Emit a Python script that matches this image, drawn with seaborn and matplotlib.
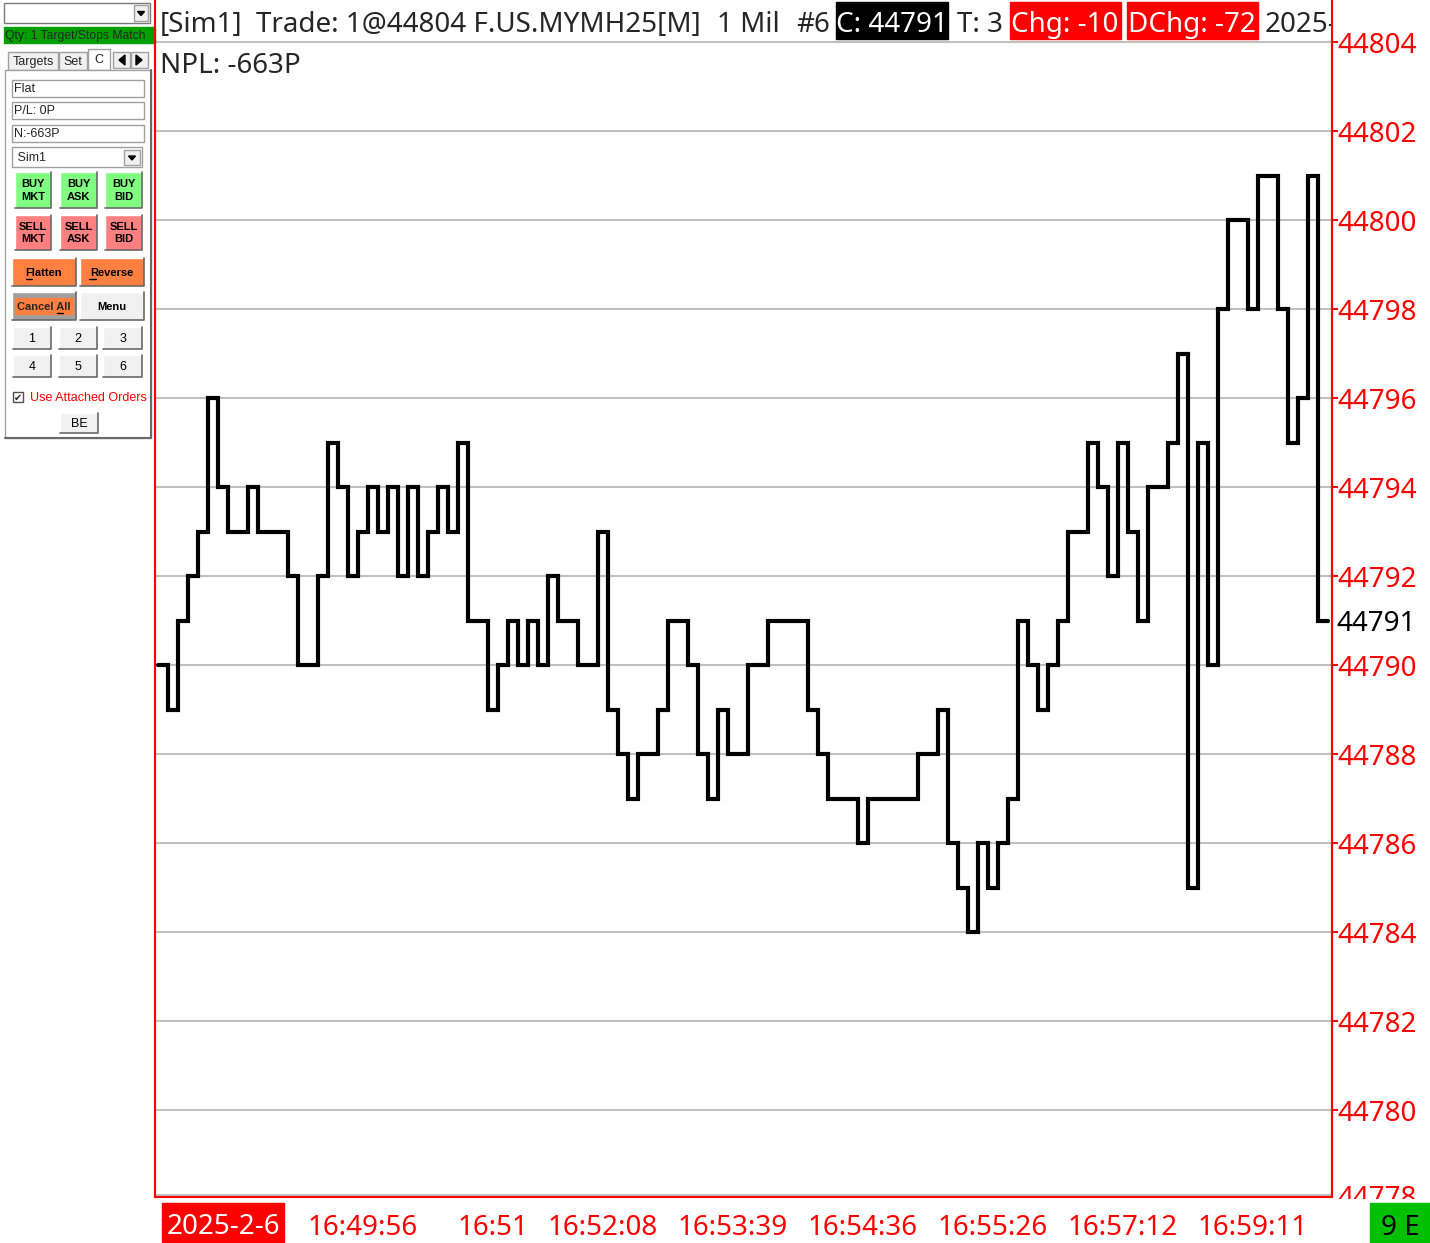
import numpy as np
import pandas as pd
import matplotlib
matplotlib.use("Agg")
import matplotlib.pyplot as plt
import seaborn as sns
from matplotlib.patches import Rectangle, Polygon

# closing price of each 1-tick bar
closes = [44790, 44789, 44791, 44792, 44793, 44796, 44794, 44793, 44793, 44794,
          44793, 44793, 44793, 44792, 44790, 44790, 44792, 44795, 44794, 44792,
          44793, 44794, 44793, 44794, 44792, 44794, 44792, 44793, 44794, 44793,
          44795, 44791, 44791, 44789, 44790, 44791, 44790, 44791, 44790, 44792,
          44791, 44791, 44790, 44790, 44793, 44789, 44788, 44787, 44788, 44788,
          44789, 44791, 44791, 44790, 44788, 44787, 44789, 44788, 44788, 44790,
          44790, 44791, 44791, 44791, 44791, 44789, 44788, 44787, 44787, 44787,
          44786, 44787, 44787, 44787, 44787, 44787, 44788, 44788, 44789, 44786,
          44785, 44784, 44786, 44785, 44786, 44787, 44791, 44790, 44789, 44790,
          44791, 44793, 44793, 44795, 44794, 44792, 44795, 44793, 44791, 44794,
          44794, 44795, 44797, 44785, 44795, 44790, 44798, 44800, 44800, 44798,
          44801, 44801, 44798, 44795, 44796, 44801, 44791]
time_tick_bars = [20, 33, 44, 57, 70, 83, 96, 109]
time_labels = ["16:49:56", "16:51", "16:52:08", "16:53:39", "16:54:36",
               "16:55:26", "16:57:12", "16:59:11"]
price_ticks = list(range(44780, 44805, 2))
last_price = 44791
date_label = "2025-2-6"

title_parts = ["[Sim1]", "Trade: 1@44804 F.US.MYMH25[M]", "1 Mil", "#6"]
npl_text = "NPL: -663P"
buy_labels = ["BUY\nMKT", "BUY\nASK", "BUY\nBID"]
sell_labels = ["SELL\nMKT", "SELL\nASK", "SELL\nBID"]
field_labels = ["Flat", "P/L: 0P", "N:-663P"]
num_labels = ["1", "2", "3", "4", "5", "6"]

sns.set_style("white")
plt.rcParams['font.family'] = ['Noto Sans', 'DejaVu Sans']

W, H = 1430, 1243
fig = plt.figure(figsize=(W / 100, H / 100), dpi=100)


def fx(px):
    return px / W


def fy(py):
    return 1 - py / H


# main price chart
ax = fig.add_axes([fx(155), fy(1197), fx(1332) - fx(155), fy(40) - fy(1197)])
df = pd.DataFrame({'bar': np.arange(len(closes) + 1),
                   'close': closes + closes[-1:]})
sns.lineplot(data=df, x='bar', y='close', drawstyle='steps-post', color='black',
             lw=3.0, solid_joinstyle='miter', ax=ax)
ax.set_xlim(-0.3, 117.4)
ax.set_ylim(44778.045, 44804.045)
ax.set_xlabel('')
ax.set_ylabel('')

ax.set_yticks(price_ticks)
ax.yaxis.tick_right()
ax.tick_params(axis='y', colors='red', labelsize=20, length=4, width=1.5, pad=0)
ax.grid(axis='y', color='#c0c0c0', lw=1.5)
ax.grid(axis='x', visible=False)

ax.set_xticks([0.3] + [b + 0.5 for b in time_tick_bars])
ax.set_xticklabels([''] + time_labels)
ax.tick_params(axis='x', colors='red', labelsize=20, length=6, width=1.5, pad=6)

for side in ['left', 'right', 'bottom']:
    ax.spines[side].set_color('red')
    ax.spines[side].set_linewidth(1.5)
ax.spines['top'].set_visible(False)
ax.axhline(44778.1, color='#c0c0c0', lw=1.5)

ax.text(1 + 4 / 1177, last_price, str(last_price), transform=ax.get_yaxis_transform(),
        color='black', fontsize=20, va='center_baseline', ha='left')

# overlay in pixel coordinates for the header, footer and trade window
ov = fig.add_axes([0, 0, 1, 1])
ov.set_xlim(0, W)
ov.set_ylim(H, 0)
ov.axis('off')
ov.patch.set_alpha(0)
ov.set_zorder(5)

ov.plot([155, 155], [0, 1197], color='red', lw=1.5)
ov.plot([1332, 1332], [0, 1197], color='red', lw=1.5)

# header
for x, t in zip([160, 256, 717, 796], title_parts):
    ov.text(x, 32, t, fontsize=20, va='baseline', ha='left')
ov.add_patch(Rectangle((836, 2), 112, 37, color='black'))
ov.text(892, 32, "C: 44791", color='white', fontsize=20, va='baseline', ha='center')
ov.text(957, 32, "T: 3", fontsize=20, va='baseline', ha='left')
ov.add_patch(Rectangle((1010, 2), 111, 37, color='red'))
ov.text(1065, 32, "Chg: -10", color='white', fontsize=20, va='baseline', ha='center')
ov.add_patch(Rectangle((1127, 2), 131, 37, color='red'))
ov.text(1192, 32, "DChg: -72", color='white', fontsize=20, va='baseline', ha='center')
tx = ov.text(1265, 32, "2025-", fontsize=20, va='baseline', ha='left', clip_on=True)
tx.set_clip_path(Rectangle((1258, 0), 73, 40, transform=ov.transData))
ov.text(160, 73, npl_text, fontsize=20, va='baseline', ha='left')

# footer
ov.add_patch(Rectangle((162, 1203), 122, 39, color='red'))
ov.text(223, 1234, date_label, color='white', fontsize=20, va='baseline', ha='center')
cut = ov.text(1337, 1206, "44778", color='red', fontsize=20, va='baseline', ha='left',
              clip_on=True)
cut.set_clip_path(Rectangle((1334, 1150), 96, 49, transform=ov.transData))
ov.add_patch(Rectangle((1370, 1203), 60, 40, color='#00c000', zorder=5))
ov.text(1400, 1235, "9 E", color='black', fontsize=20, va='baseline', ha='center', zorder=6)

# trade window panel
PF = ['Liberation Sans', 'DejaVu Sans']


def raised(x0, y0, x1, y1, face, label='', bold=False, size=8, tcolor='black'):
    ov.add_patch(Rectangle((x0, y0), x1 - x0, y1 - y0, facecolor=face, edgecolor='none'))
    ov.plot([x0, x0, x1], [y1, y0, y0], color='#ffffff', lw=1)
    ov.plot([x0, x1, x1], [y1, y1, y0], color='#696969', lw=1.2)
    if label:
        ov.text((x0 + x1) / 2, (y0 + y1) / 2 + 0.5, label, family=PF, fontsize=size,
                fontweight='bold' if bold else 'normal', color=tcolor,
                ha='center', va='center', linespacing=1.3)


def field(x0, y0, x1, y1, label):
    ov.add_patch(Rectangle((x0, y0), x1 - x0, y1 - y0, facecolor='white',
                           edgecolor='#a0a0a0', lw=1))
    ov.text(x0 + 2, (y0 + y1) / 2 + 0.5, label, family=PF, fontsize=9,
            ha='left', va='center')


def drop_btn(x0, y0, x1, y1):
    ov.add_patch(Rectangle((x0, y0), x1 - x0, y1 - y0, facecolor='#f0f0f0',
                           edgecolor='#a0a0a0', lw=1))
    cx, cy = (x0 + x1) / 2, (y0 + y1) / 2
    ov.add_patch(Polygon([[cx - 3.5, cy - 1.5], [cx + 3.5, cy - 1.5], [cx, cy + 2.5]],
                         color='black'))


# symbol combo + status bar
ov.add_patch(Rectangle((4, 3), 146, 20, facecolor='white', edgecolor='#7a7a7a', lw=1))
drop_btn(134, 5, 148, 21)
ov.add_patch(Rectangle((4, 27), 151, 16, color='#00a000'))
ov.text(5, 35.5, "Qty: 1 Target/Stops Match", family=PF, fontsize=8.7, ha='left', va='center')

# tabs
for (x0, x1), lab in zip([(8, 58), (59, 87)], ["Targets", "Set"]):
    ov.add_patch(Rectangle((x0, 52), x1 - x0, 18, facecolor='#f0f0f0', edgecolor='#a0a0a0', lw=1))
    ov.text((x0 + x1) / 2, 62, lab, family=PF, fontsize=9, ha='center', va='center')
ov.add_patch(Rectangle((88, 49), 22, 21, facecolor='white', edgecolor='#a0a0a0', lw=1))
ov.text(99, 60, "C", family=PF, fontsize=9, ha='center', va='center')
for x0, arrow in [(113, [[119, 60], [125, 55], [125, 65]]), (131, [[142, 60], [136, 55], [136, 65]])]:
    ov.add_patch(Rectangle((x0, 52), 17, 16, facecolor='#f0f0f0', edgecolor='#a0a0a0', lw=1))
    ov.add_patch(Polygon(arrow, color='black'))

# panel frame
ov.add_patch(Rectangle((5, 70), 146, 368, facecolor='white', edgecolor='#a0a0a0', lw=1))
ov.plot([5, 151, 151], [438, 438, 70], color='#696969', lw=1.5)

for (y0, y1), lab in zip([(80, 97), (102, 119), (125, 142)], field_labels):
    field(12, y0, 144, y1, lab)
field(12, 147, 142, 167, " Sim1")
drop_btn(124, 150, 140, 165)

cols = [(15, 51), (60, 97), (105, 142)]
for (x0, x1), lab in zip(cols, buy_labels):
    raised(x0, 172, x1, 208, '#80ff80', lab, bold=True, size=8)
for (x0, x1), lab in zip(cols, sell_labels):
    raised(x0, 215, x1, 250, '#ff8080', lab, bold=True, size=8)

raised(12, 258, 76, 286, '#ff8040', 'Flatten', bold=True, size=8)
raised(80, 258, 144, 286, '#ff8040', 'Reverse', bold=True, size=8)
ov.plot([26, 32], [279, 279], color='black', lw=1)
ov.plot([89, 96], [279, 279], color='black', lw=1)

raised(12, 292, 76, 320, '#a0a0a0')
ov.add_patch(Rectangle((15, 298), 58, 16, color='#ff8040'))
ov.text(44, 306.5, 'Cancel All', family=PF, fontsize=8, fontweight='bold',
        ha='center', va='center')
ov.plot([57, 63], [313, 313], color='black', lw=1)
raised(80, 292, 144, 320, '#f0f0f0', 'Menu', bold=True, size=8)

num_cols = [(13, 51), (59, 97), (103, 142)]
for i, lab in enumerate(num_labels):
    x0, x1 = num_cols[i % 3]
    y0, y1 = [(327, 349), (355, 377)][i // 3]
    raised(x0, y0, x1, y1, '#f0f0f0', lab, size=9)

ov.add_patch(Rectangle((13, 392), 10, 10, facecolor='white', edgecolor='#505050', lw=1))
ov.text(18, 397.5, '✔', family=['DejaVu Sans'], fontsize=7, ha='center', va='center')
ov.text(30, 397.5, 'Use Attached Orders', family=PF, fontsize=9, color='red',
        ha='left', va='center')
raised(60, 413, 98, 433, '#f0f0f0', 'BE', size=9)

fig.savefig('out.png', dpi=100)
